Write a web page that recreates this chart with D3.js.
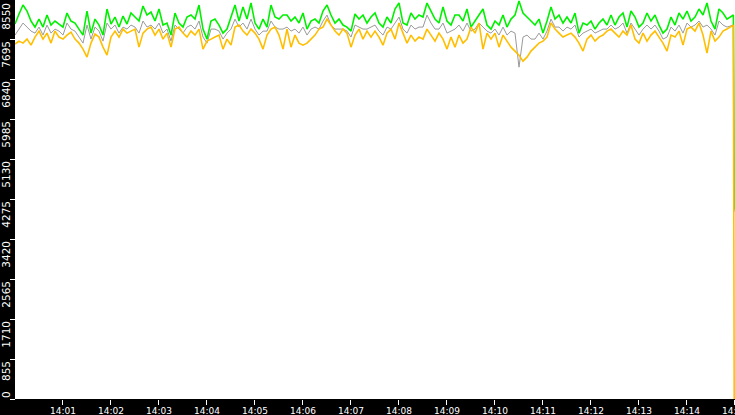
<!DOCTYPE html>
<html>
<head>
<meta charset="utf-8">
<script src="https://cdn.jsdelivr.net/npm/d3@7"></script>
<style>
html,body{margin:0;padding:0;background:#000;}
svg{display:block;}
</style>
</head>
<body>
<script>
// ---- data (sampled every 5 s from 14:00:00; last two samples at 14:14:58 / 14:14:59) ----
const startTime = "14:00:00";
const stepSeconds = 5;
const tailSeconds = [898, 899];

const grayValues = [
7779,7907,8036,7950,7864,7821,7950,7779,7993,7821,7907,7864,7779,8036,7907,7864,7736,7607,7993,7693,7950,7864,7650,8036,7907,7993,7821,7950,7907,7993,
7950,7821,8079,7950,7993,7907,8036,7821,7907,7650,7993,7907,7821,7950,7993,7907,8079,7736,7607,7907,7907,7864,7693,7821,7907,8121,7950,8036,7907,8121,
7907,7779,7864,7864,8079,7950,7907,7907,7950,7864,7907,7821,7950,7779,7907,7950,7907,8079,8207,7993,7907,7907,7907,7864,7736,7993,7950,7907,7907,7950,
7993,7864,7779,7950,7907,8036,8164,7907,7821,7993,7907,7950,7950,8207,8036,7907,7907,8036,7821,7864,7907,7993,7864,8036,7864,7907,8036,7950,7864,7821,
7907,7779,7950,7779,7864,7821,7093,7736,7779,7693,7693,7821,7693,7864,8121,7950,7950,7864,7950,7907,7993,7736,7821,7864,7907,7821,7864,7907,7907,7993,
7907,7950,8036,7821,8036,7907,7779,7907,7993,7907,7993,7864,7693,7736,7950,7864,7993,7821,8036,7950,7993,8079,7950,7993,7907,7779,8079,7993,7950,7993,
4000];

const greenValues = [
8014,8229,8421,8293,8079,7950,8121,7950,8207,7993,8079,8014,7950,8250,8079,8036,7907,7779,8293,7821,8121,7993,7779,8336,8014,8164,7950,8186,8014,8250,
8164,8079,8400,8207,8271,8079,8336,7993,8036,7779,8250,8036,7950,8164,8207,8121,8421,7907,7693,8079,8121,7993,7821,7907,8164,8421,8079,8379,8121,8464,
8036,7907,8121,7950,8421,8164,8121,8207,8207,8079,8164,8036,8250,7907,8079,8121,8036,8293,8421,8207,8036,8121,7993,7950,7864,8229,8121,8207,8036,8164,
8250,8036,7950,8164,8036,8336,8464,8036,7993,8250,8121,8207,8164,8464,8293,8121,8036,8379,8079,7993,8207,8207,8079,8336,7950,8079,8207,8336,7993,7907,
8079,7993,8207,7950,8121,8207,8507,8250,8164,8079,7993,8121,7821,8079,8379,8121,8207,8036,8164,8036,8250,7821,8036,7993,8079,7907,8036,8121,7993,8207,
7993,8164,8250,7950,8293,8164,7950,8036,8250,8079,8207,7993,7821,7907,8164,7993,8250,8121,8293,8079,8164,8336,8207,8464,8079,7907,8336,8250,8121,8207,
4050];

const orangeValues = [
7586,7650,7607,7693,7564,7736,7864,7693,7821,7607,7864,7736,7693,7779,7843,7693,7607,7479,7307,7607,7800,7736,7521,7350,7736,7864,7736,7907,7821,7864,
7907,7521,7821,7907,7950,7779,7907,7693,7821,7521,7907,7950,7821,7736,7864,7779,7907,7479,7650,7693,7736,7779,7479,7693,7564,7950,7993,7864,7779,7907,
7821,7693,7479,7779,7907,7950,7779,7479,7907,7521,7779,7607,7564,7607,7693,7779,7907,7950,8121,7993,7864,7779,7907,7821,7521,7779,7907,7693,7864,7736,
7864,7736,7564,7821,7907,7693,8036,7821,7607,7779,7650,7736,7693,7907,7779,7650,7821,7693,7479,7736,7521,7779,7607,7693,7950,7821,8036,7479,7821,7693,
7821,7521,7779,7650,7521,7436,7350,7221,7307,7436,7521,7607,7650,7736,8036,7907,7821,7736,7779,7821,7736,7607,7436,7693,7779,7650,7736,7779,7864,7907,
7821,7736,7864,7779,7993,7693,7607,7821,7650,7779,7864,7736,7607,7436,7779,7736,7864,7564,7907,7950,7864,8036,7779,7393,7864,7650,7736,7864,7907,7993,
0];

const yTickValues = [0,855,1710,2565,3420,4275,5130,5985,6840,7695,8550];
const xTickLabels = ["14:01","14:02","14:03","14:04","14:05","14:06","14:07","14:08","14:09","14:10","14:11","14:12","14:13","14:14","14:15"];
const xDomainLabels = ["14:00:00","14:15:00"];
const seriesColors = {gray:"#9a9a9a", green:"#00f000", orange:"#ffbf00"};

// ---- layout ----
const W = 735, H = 415;
const plot = {left:15, right:735, top:-1, bottom:399};

const parseHMS = d3.timeParse("%H:%M:%S");
const parseHM = d3.timeParse("%H:%M");
const t0 = parseHMS(startTime);
function timeAt(i, n){
  let s;
  if (i === n-1) s = tailSeconds[1];
  else if (i === n-2) s = tailSeconds[0];
  else s = i*stepSeconds;
  return new Date(t0.getTime() + s*1000);
}

const x = d3.scaleTime()
  .domain(xDomainLabels.map(parseHMS))
  .range([plot.left, plot.right]);
const y = d3.scaleLinear()
  .domain([0, 8550])
  .range([plot.bottom, plot.top]);

const svg = d3.select("body").append("svg")
  .attr("width", W).attr("height", H);

svg.append("rect").attr("x",0).attr("y",0).attr("width",W).attr("height",H).attr("fill","#000");
svg.append("rect")
  .attr("x", plot.left).attr("y", 0)
  .attr("width", plot.right-plot.left).attr("height", plot.bottom)
  .attr("fill","#fff");

svg.append("defs").append("clipPath").attr("id","clip")
  .append("rect").attr("x", plot.left).attr("y", 0)
  .attr("width", plot.right-plot.left).attr("height", plot.bottom);

const g = svg.append("g").attr("clip-path","url(#clip)");

function drawSeries(values, color, width){
  const n = values.length;
  const pts = values.map((v,i)=>({t:timeAt(i,n), v}));
  const line = d3.line().x(d=>x(d.t)).y(d=>y(d.v));
  g.append("path").datum(pts)
    .attr("d", line)
    .attr("fill","none")
    .attr("stroke", color)
    .attr("stroke-width", width)
    .attr("stroke-linejoin","miter")
    .attr("stroke-miterlimit", 2);
}
drawSeries(grayValues, seriesColors.gray, 1);
drawSeries(greenValues, seriesColors.green, 1.6);
drawSeries(orangeValues, seriesColors.orange, 1.6);

// ---- y axis ----
const yAxis = svg.append("g").attr("class","y-axis");
yTickValues.forEach(v=>{
  const yy = Math.round(y(v));
  yAxis.append("line")
    .attr("x1",10).attr("x2",15).attr("y1",yy+0.5).attr("y2",yy+0.5)
    .attr("stroke","#fff").attr("stroke-width",1);
  const isZero = v === 0;
  const ay = isZero ? 398 : Math.max(yy+2, 3);
  yAxis.append("text")
    .attr("transform",`translate(9.5,${ay}) rotate(-90)`)
    .attr("text-anchor", isZero ? "start" : "end")
    .attr("fill","#fff")
    .attr("font-family","DejaVu Sans")
    .attr("font-size","10.5px")
    .text(d3.format("d")(v));
});

// ---- x axis ----
const xAxis = svg.append("g").attr("class","x-axis");
xTickLabels.forEach(lbl=>{
  const xx = Math.round(x(parseHM(lbl)));
  xAxis.append("line")
    .attr("x1",xx-0.5).attr("x2",xx-0.5).attr("y1",400).attr("y2",405)
    .attr("stroke","#fff").attr("stroke-width",1);
  xAxis.append("text")
    .attr("x",xx).attr("y",414)
    .attr("text-anchor","middle")
    .attr("fill","#fff")
    .attr("font-family","DejaVu Sans")
    .attr("font-size","9px")
    .text(lbl);
});
</script>
</body>
</html>
